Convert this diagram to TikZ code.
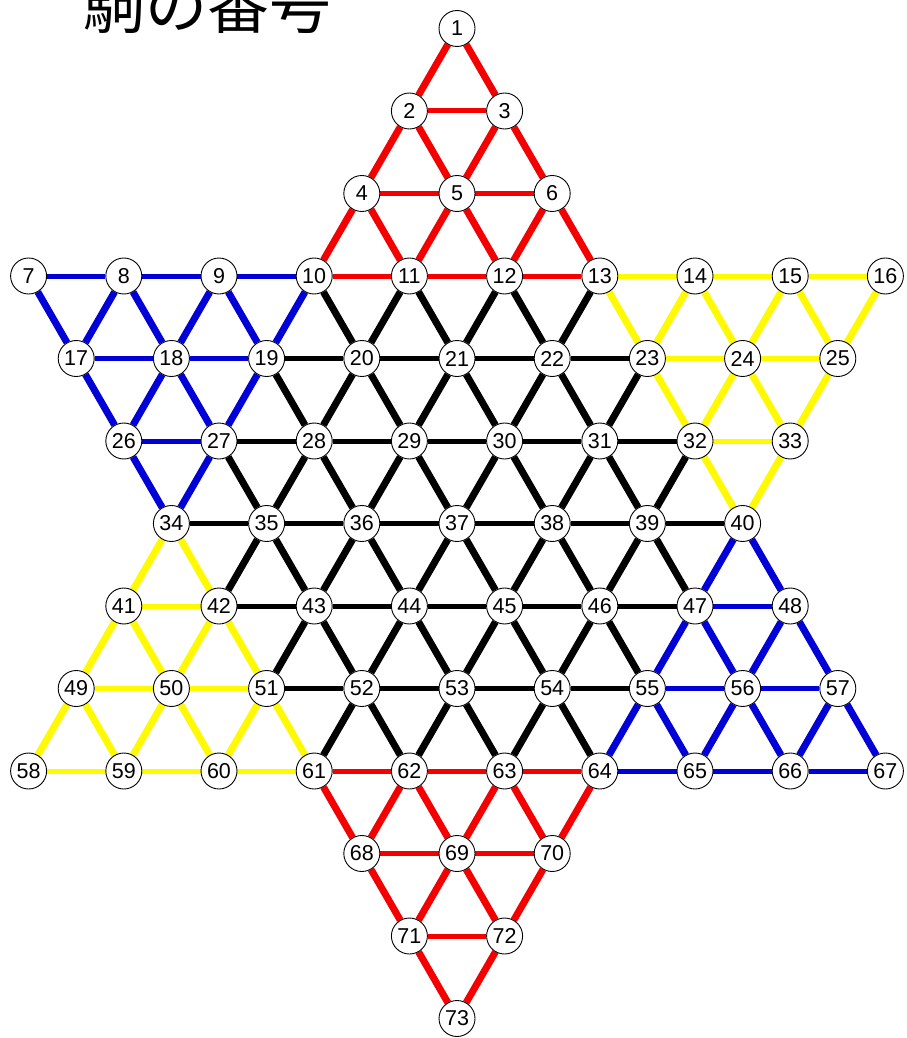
\documentclass[tikz,border=0pt]{standalone}
\usepackage{fontspec}
\setmainfont{Liberation Sans}
\newfontfamily\cjk{Noto Sans CJK JP}
\usetikzlibrary{backgrounds}
\definecolor{bred}{RGB}{245,0,0}
\definecolor{bblue}{RGB}{0,0,215}
\definecolor{byellow}{RGB}{255,250,0}
\begin{document}
\begin{tikzpicture}[x=1pt,y=-1pt,
  pt/.style={circle,draw=black,line width=0.9pt,fill=white,minimum size=36pt,inner sep=0pt,font=\fontsize{21.5}{21.5}\selectfont},
  hl/.style={line width=5pt},
  dl/.style={line width=7pt},
  er/.style={bred},
  eb/.style={bblue},
  ey/.style={byellow},
  ek/.style={black}]
\useasboundingbox (0,0) rectangle (906,1038);
\node[anchor=base west,inner sep=0pt,font=\cjk\fontsize{62}{62}\selectfont] (title) at (83,29) {駒の番号};
\foreach \n/\c/\r in {1/0/0,
  2/-1/1,3/1/1,
  4/-2/2,5/0/2,6/2/2,
  7/-9/3,8/-7/3,9/-5/3,10/-3/3,11/-1/3,12/1/3,13/3/3,14/5/3,15/7/3,16/9/3,
  17/-8/4,18/-6/4,19/-4/4,20/-2/4,21/0/4,22/2/4,23/4/4,24/6/4,25/8/4,
  26/-7/5,27/-5/5,28/-3/5,29/-1/5,30/1/5,31/3/5,32/5/5,33/7/5,
  34/-6/6,35/-4/6,36/-2/6,37/0/6,38/2/6,39/4/6,40/6/6,
  41/-7/7,42/-5/7,43/-3/7,44/-1/7,45/1/7,46/3/7,47/5/7,48/7/7,
  49/-8/8,50/-6/8,51/-4/8,52/-2/8,53/0/8,54/2/8,55/4/8,56/6/8,57/8/8,
  58/-9/9,59/-7/9,60/-5/9,61/-3/9,62/-1/9,63/1/9,64/3/9,65/5/9,66/7/9,67/9/9,
  68/-2/10,69/0/10,70/2/10,
  71/-1/11,72/1/11,
  73/0/12}
  \node[pt] (n\n) at ({457+47.6*(\c)},{28.5+82.5*(\r)}) {\n};
\begin{scope}[on background layer]
% red
\foreach \a/\b in {2/3,4/5,5/6,10/11,11/12,12/13,61/62,62/63,63/64,68/69,69/70,71/72}
  \draw[er,hl] (n\a) -- (n\b);
\foreach \a/\b in {1/2,1/3,2/4,2/5,3/5,3/6,4/10,4/11,5/11,5/12,6/12,6/13,
  61/68,62/68,62/69,63/69,63/70,64/70,68/71,69/71,69/72,70/72,71/73,72/73}
  \draw[er,dl] (n\a) -- (n\b);
% blue
\foreach \a/\b in {7/8,8/9,9/10,17/18,18/19,26/27,47/48,55/56,56/57,64/65,65/66,66/67}
  \draw[eb,hl] (n\a) -- (n\b);
\foreach \a/\b in {7/17,8/17,8/18,9/18,9/19,10/19,17/26,18/26,18/27,19/27,26/34,27/34,
  40/47,40/48,47/55,47/56,48/56,48/57,55/64,55/65,56/65,56/66,57/66,57/67}
  \draw[eb,dl] (n\a) -- (n\b);
% yellow
\foreach \a/\b in {13/14,14/15,15/16,23/24,24/25,32/33,41/42,49/50,50/51,58/59,59/60,60/61}
  \draw[ey,hl] (n\a) -- (n\b);
\foreach \a/\b in {13/23,14/23,14/24,15/24,15/25,16/25,23/32,24/32,24/33,25/33,32/40,33/40,
  34/41,34/42,41/49,41/50,42/50,42/51,49/58,49/59,50/59,50/60,51/60,51/61}
  \draw[ey,dl] (n\a) -- (n\b);
% black
\foreach \a/\b in {19/20,20/21,21/22,22/23,27/28,28/29,29/30,30/31,31/32,
  34/35,35/36,36/37,37/38,38/39,39/40,42/43,43/44,44/45,45/46,46/47,
  51/52,52/53,53/54,54/55}
  \draw[ek,hl] (n\a) -- (n\b);
\foreach \a/\b in {10/20,11/20,11/21,12/21,12/22,13/22,
  19/28,20/28,20/29,21/29,21/30,22/30,22/31,23/31,
  27/35,28/35,28/36,29/36,29/37,30/37,30/38,31/38,31/39,32/39,
  35/42,35/43,36/43,36/44,37/44,37/45,38/45,38/46,39/46,39/47,
  43/51,43/52,44/52,44/53,45/53,45/54,46/54,46/55,
  52/61,52/62,53/62,53/63,54/63,54/64}
  \draw[ek,dl] (n\a) -- (n\b);
\end{scope}
\end{tikzpicture}
\end{document}
